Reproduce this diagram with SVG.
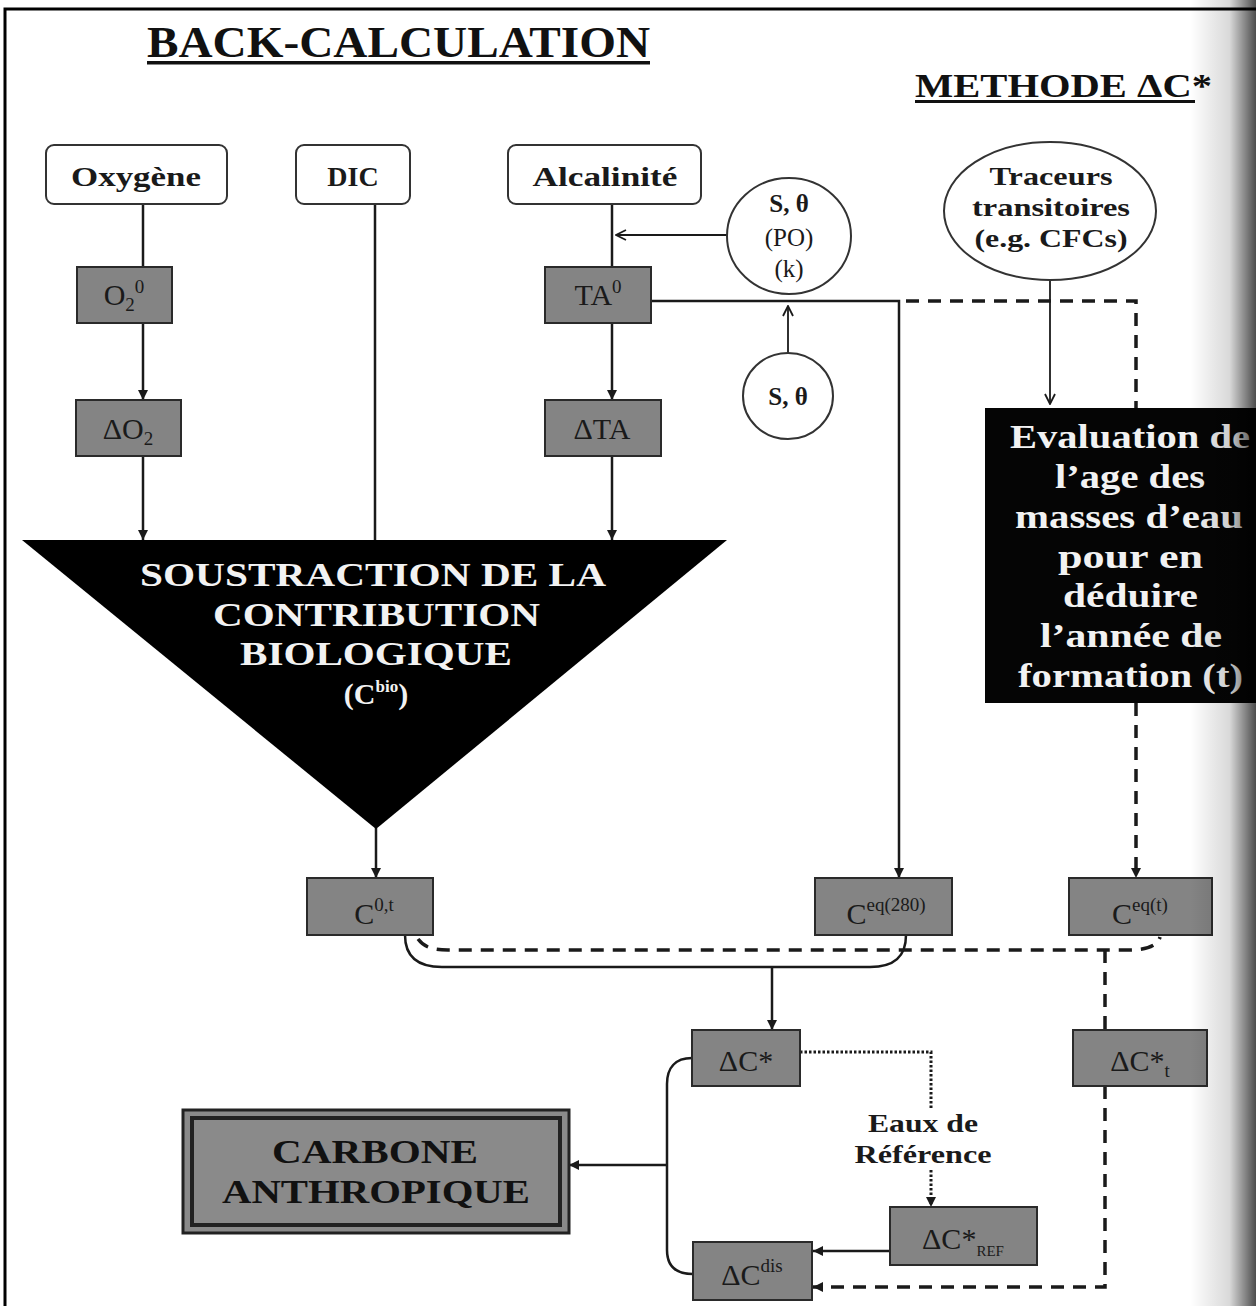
<svg xmlns="http://www.w3.org/2000/svg" width="1256" height="1306" viewBox="0 0 1256 1306">
<defs>
<marker id="arr" viewBox="0 0 10 10" refX="10" refY="5" markerWidth="10" markerHeight="10" markerUnits="userSpaceOnUse" orient="auto"><path d="M0,0 L10,5 L0,10 z" fill="#1a1a1a"/></marker>
<marker id="chev" viewBox="0 0 12 12" refX="11" refY="6" markerWidth="12" markerHeight="12" markerUnits="userSpaceOnUse" orient="auto"><path d="M1,1 L11,6 L1,11" fill="none" stroke="#1a1a1a" stroke-width="1.8"/></marker>
<linearGradient id="shade" x1="0" y1="0" x2="1" y2="0"><stop offset="0" stop-color="#000" stop-opacity="0"/><stop offset="0.6" stop-color="#000" stop-opacity="0.15"/><stop offset="1" stop-color="#000" stop-opacity="0.7"/></linearGradient>
</defs>
<style>
.t{font-family:"Liberation Serif","Times New Roman",serif;}
.b{font-weight:bold;}
.wbox{fill:#fff;stroke:#333;stroke-width:2;}
.gbox{fill:#848484;stroke:#2a2a2a;stroke-width:2;}
.gt{font-family:"Liberation Serif","Times New Roman",serif;font-size:30px;fill:#1a1a1a;text-anchor:middle;}
.wt{font-family:"Liberation Serif","Times New Roman",serif;font-size:28px;font-weight:bold;fill:#1a1a1a;text-anchor:middle;}
.ln{fill:none;stroke:#1a1a1a;stroke-width:2.5;}
.thin{fill:none;stroke:#1a1a1a;stroke-width:1.8;}
.dash{fill:none;stroke:#1a1a1a;stroke-width:3.5;stroke-dasharray:13 9;}
.dot{fill:none;stroke:#1a1a1a;stroke-width:3;stroke-dasharray:2.5 2;}
.circ{fill:#fff;stroke:#333;stroke-width:2;}
.ct{font-family:"Liberation Serif","Times New Roman",serif;font-size:25px;fill:#1a1a1a;text-anchor:middle;}
.inv{font-family:"Liberation Serif","Times New Roman",serif;font-weight:bold;fill:#f2f2f2;}
.sp{font-size:19px;}
</style>
<rect width="1256" height="1306" fill="#fff"/>
<path d="M5,1306 L5,9 L1256,9" fill="none" stroke="#000" stroke-width="3"/>

<g id="titles">
<text class="t b" x="147" y="57" font-size="44" textLength="503" lengthAdjust="spacingAndGlyphs" fill="#111">BACK-CALCULATION</text>
<rect x="147" y="61" width="503" height="3.5" fill="#111"/>
<text class="t b" x="915" y="97" font-size="34" textLength="297" lengthAdjust="spacingAndGlyphs" fill="#111">METHODE ΔC*</text>
<rect x="915" y="100" width="280" height="3" fill="#111"/>
</g>

<g id="connectors">
<path class="ln" d="M143,204 L143,267"/>
<path class="ln" d="M143,323 L143,400" marker-end="url(#arr)"/>
<path class="ln" d="M143,456 L143,540" marker-end="url(#arr)"/>
<path class="ln" d="M375,204 L375,540"/>
<path class="ln" d="M612,204 L612,267"/>
<path class="ln" d="M612,323 L612,400" marker-end="url(#arr)"/>
<path class="ln" d="M612,456 L612,540" marker-end="url(#arr)"/>
<path class="thin" d="M727,235 L616,235" marker-end="url(#chev)"/>
<path class="thin" d="M788,353 L788,306" marker-end="url(#chev)"/>
<path class="ln" d="M651,301 L899,301 L899,878" marker-end="url(#arr)"/>
<path class="dash" d="M906,301 L1136,301 L1136,408"/>
<path class="thin" d="M1050,280 L1050,404" marker-end="url(#chev)"/>
<path class="dash" d="M1136,703 L1136,878" marker-end="url(#arr)"/>
<path class="ln" d="M376,828 L376,878" marker-end="url(#arr)"/>
<path class="ln" d="M405,935 C405,957 418,967 442,967 L870,967 C894,967 906,957 906,935"/>
<path class="ln" d="M772,967 L772,1030" marker-end="url(#arr)"/>
<path class="dash" d="M418,939 C424,947 432,950 448,950 L1130,950 C1148,950 1158,945 1160,937"/>
<path class="dash" d="M1105,950 L1105,1030"/>
<path class="dash" d="M1105,1086 L1105,1287 L813,1287" marker-end="url(#arr)"/>
<path class="dot" d="M800,1052 L931,1052 L931,1108"/>
<path class="dot" d="M931,1170 L931,1207" marker-end="url(#arr)"/>
<path class="ln" d="M890,1251 L813,1251" marker-end="url(#arr)"/>
<path class="ln" d="M692,1058 C675,1058 667,1068 667,1084 L667,1250 C667,1266 675,1274 693,1274"/>
<path class="ln" d="M667,1165 L569,1165" marker-end="url(#arr)"/>
</g>

<g id="oxygene"><rect class="wbox" x="46" y="145" width="181" height="59" rx="8"/><text class="wt" x="136" y="186" textLength="130" lengthAdjust="spacingAndGlyphs">Oxygène</text></g>
<g id="dic"><rect class="wbox" x="296" y="145" width="114" height="59" rx="8"/><text class="wt" x="353" y="186">DIC</text></g>
<g id="alcalinite"><rect class="wbox" x="508" y="145" width="193" height="59" rx="8"/><text class="wt" x="605" y="186" textLength="145" lengthAdjust="spacingAndGlyphs">Alcalinité</text></g>

<g id="o2zero"><rect class="gbox" x="77" y="267" width="95" height="56"/><text class="gt" x="124" y="305">O<tspan class="sp" dy="6">2</tspan><tspan class="sp" dy="-18">0</tspan></text></g>
<g id="dO2"><rect class="gbox" x="76" y="400" width="105" height="56"/><text class="gt" x="128" y="439">ΔO<tspan class="sp" dy="6">2</tspan></text></g>
<g id="tazero"><rect class="gbox" x="545" y="267" width="106" height="56"/><text class="gt" x="598" y="305">TA<tspan class="sp" dy="-12">0</tspan></text></g>
<g id="dTA"><rect class="gbox" x="545" y="400" width="116" height="56"/><text class="gt" x="602" y="439">ΔTA</text></g>

<g id="sthetapok"><ellipse class="circ" cx="789" cy="236" rx="62" ry="58"/>
<text class="ct b" x="789" y="212">S, θ</text>
<text class="ct" x="789" y="246">(PO)</text>
<text class="ct" x="789" y="277">(k)</text></g>
<g id="stheta"><ellipse class="circ" cx="788" cy="396" rx="45" ry="43"/><text class="ct b" x="788" y="405">S, θ</text></g>

<g id="traceurs"><ellipse class="circ" cx="1050" cy="211" rx="106" ry="69"/>
<text class="ct b" x="1051" y="185" textLength="123" lengthAdjust="spacingAndGlyphs">Traceurs</text>
<text class="ct b" x="1051" y="216" textLength="158" lengthAdjust="spacingAndGlyphs">transitoires</text>
<text class="ct b" x="1051" y="247" textLength="153" lengthAdjust="spacingAndGlyphs">(e.g. CFCs)</text></g>

<g id="soustraction"><path d="M22,540 L727,540 L376,829 z" fill="#000"/>
<text class="inv" x="140" y="586" font-size="34" textLength="466" lengthAdjust="spacingAndGlyphs">SOUSTRACTION DE LA</text>
<text class="inv" x="213" y="626" font-size="34" textLength="327" lengthAdjust="spacingAndGlyphs">CONTRIBUTION</text>
<text class="inv" x="240" y="665" font-size="34" textLength="272" lengthAdjust="spacingAndGlyphs">BIOLOGIQUE</text>
<text class="inv" x="376" y="704" font-size="30" style="text-anchor:middle">(C<tspan font-size="17" dy="-12">bio</tspan><tspan dy="12">)</tspan></text></g>

<g id="evaluation"><rect x="985" y="408" width="271" height="295" fill="#050505"/>
<text class="inv" x="1010" y="448" font-size="33" textLength="240" lengthAdjust="spacingAndGlyphs">Evaluation de</text>
<text class="inv" x="1055" y="488" font-size="33" textLength="150" lengthAdjust="spacingAndGlyphs">l’age des</text>
<text class="inv" x="1015" y="528" font-size="33" textLength="228" lengthAdjust="spacingAndGlyphs">masses d’eau</text>
<text class="inv" x="1058" y="568" font-size="33" textLength="145" lengthAdjust="spacingAndGlyphs">pour  en</text>
<text class="inv" x="1063" y="607" font-size="33" textLength="135" lengthAdjust="spacingAndGlyphs">déduire</text>
<text class="inv" x="1040" y="647" font-size="33" textLength="182" lengthAdjust="spacingAndGlyphs">l’année de</text>
<text class="inv" x="1018" y="687" font-size="33" textLength="225" lengthAdjust="spacingAndGlyphs">formation (t)</text></g>

<g id="c0t"><rect class="gbox" x="307" y="878" width="126" height="57"/><text class="gt" x="374" y="924">C<tspan class="sp" dy="-13">0,t</tspan></text></g>
<g id="ceq280"><rect class="gbox" x="815" y="878" width="137" height="57"/><text class="gt" x="886" y="924">C<tspan class="sp" dy="-13">eq(280)</tspan></text></g>
<g id="ceqt"><rect class="gbox" x="1069" y="878" width="143" height="57"/><text class="gt" x="1140" y="924">C<tspan class="sp" dy="-13">eq(t)</tspan></text></g>

<g id="dCstar"><rect class="gbox" x="692" y="1030" width="108" height="56"/><text class="gt" x="746" y="1071">ΔC*</text></g>
<g id="dCstart"><rect class="gbox" x="1073" y="1030" width="134" height="56"/><text class="gt" x="1140" y="1071">ΔC*<tspan class="sp" dy="6">t</tspan></text></g>
<g id="eaux"><text class="ct b" x="923" y="1132" font-size="24" textLength="110" lengthAdjust="spacingAndGlyphs">Eaux de</text>
<text class="ct b" x="923" y="1163" font-size="24" textLength="137" lengthAdjust="spacingAndGlyphs">Référence</text></g>
<g id="dCref"><rect class="gbox" x="890" y="1207" width="147" height="58"/><text class="gt" x="963" y="1249">ΔC*<tspan font-size="15" dy="7">REF</tspan></text></g>
<g id="dCdis"><rect class="gbox" x="693" y="1242" width="119" height="58"/><text class="gt" x="752" y="1285">ΔC<tspan class="sp" dy="-13">dis</tspan></text></g>

<g id="carbone"><rect x="183" y="1110" width="386" height="123" fill="#8a8a8a" stroke="#222" stroke-width="3"/>
<rect x="192" y="1118" width="368" height="107" fill="none" stroke="#222" stroke-width="4"/>
<text class="t b" x="272" y="1163" font-size="33" textLength="206" lengthAdjust="spacingAndGlyphs" fill="#111">CARBONE</text>
<text class="t b" x="222" y="1203" font-size="33" textLength="308" lengthAdjust="spacingAndGlyphs" fill="#111">ANTHROPIQUE</text></g>

<rect x="1190" y="0" width="66" height="1306" fill="url(#shade)"/>
</svg>
